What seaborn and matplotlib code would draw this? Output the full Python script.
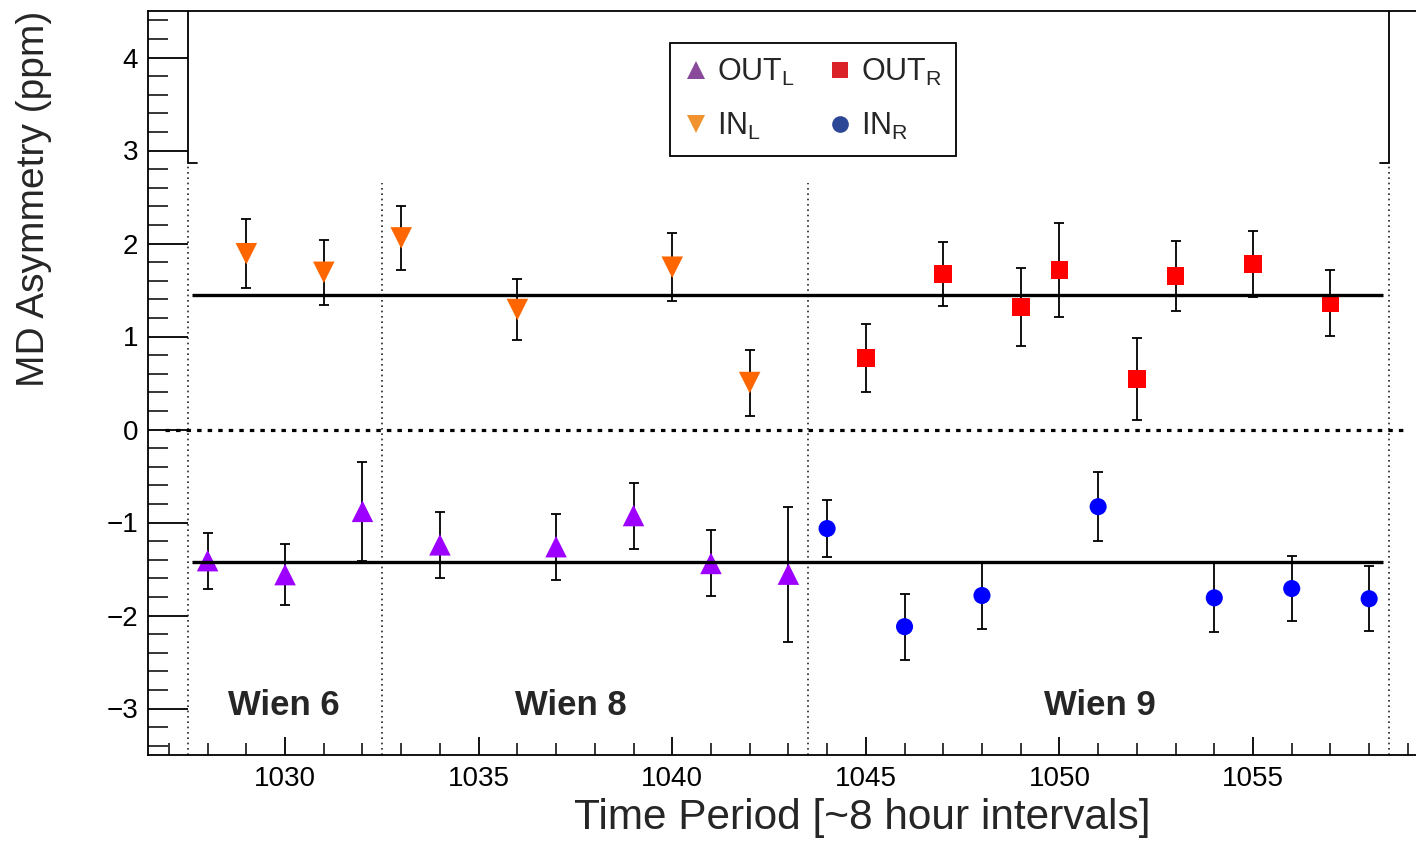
import numpy as np
import pandas as pd
import matplotlib
matplotlib.use("Agg")
import matplotlib.pyplot as plt
from matplotlib.lines import Line2D
from matplotlib.ticker import MultipleLocator
import seaborn as sns

# ---------------- data ----------------
out_l_run = [1028, 1030, 1032, 1034, 1037, 1039, 1041, 1043]
out_l_val = [-1.41, -1.56, -0.88, -1.24, -1.26, -0.925, -1.44, -1.555]
out_l_err = [0.30, 0.33, 0.53, 0.355, 0.355, 0.355, 0.355, 0.725]

in_l_run = [1029, 1031, 1033, 1036, 1040, 1042]
in_l_val = [1.89, 1.69, 2.06, 1.29, 1.745, 0.505]
in_l_err = [0.37, 0.35, 0.34, 0.33, 0.365, 0.355]

out_r_run = [1045, 1047, 1049, 1050, 1052, 1053, 1055, 1057]
out_r_val = [0.77, 1.67, 1.32, 1.715, 0.54, 1.65, 1.78, 1.36]
out_r_err = [0.365, 0.345, 0.42, 0.51, 0.44, 0.38, 0.35, 0.355]

in_r_run = [1044, 1046, 1048, 1051, 1054, 1056, 1058]
in_r_val = [-1.065, -2.12, -1.785, -0.83, -1.81, -1.71, -1.82]
in_r_err = [0.31, 0.355, 0.36, 0.37, 0.37, 0.345, 0.35]

series_names = ["OUT_L", "IN_L", "OUT_R", "IN_R"]
legend_labels = [r"OUT$_{L}$", r"IN$_{L}$", r"OUT$_{R}$", r"IN$_{R}$"]

fit_upper = 1.45     # average of IN_L / OUT_R
fit_lower = -1.43    # average of OUT_L / IN_R

wien_labels = ["Wien 6", "Wien 8", "Wien 9"]
wien_label_x = [1029.97, 1037.38, 1051.05]
wien_bounds = [1027.5, 1032.5, 1043.5, 1058.5]

# ---------------- styling ----------------
sns.set_theme(style="white")
plt.rcParams["font.family"] = ["Liberation Sans", "DejaVu Sans"]
plt.rcParams["mathtext.fontset"] = "custom"
plt.rcParams["mathtext.rm"] = "Liberation Sans"
plt.rcParams["mathtext.default"] = "regular"

marker_colors = {"OUT_L": "#9d00ff", "IN_L": "#ff6600", "OUT_R": "#ff0000", "IN_R": "#0000ff"}
legend_colors = {"OUT_L": "#8a4a9b", "IN_L": "#f0922e", "OUT_R": "#dc2229", "IN_R": "#2c4795"}
markers = {"OUT_L": "^", "IN_L": "v", "OUT_R": "s", "IN_R": "o"}
sizes = {"OUT_L": 15.5 ** 2, "IN_L": 15.5 ** 2, "OUT_R": 12.8 ** 2, "IN_R": 12.3 ** 2}

df = pd.concat([
    pd.DataFrame({"run": out_l_run, "asym": out_l_val, "err": out_l_err, "series": "OUT_L"}),
    pd.DataFrame({"run": in_l_run, "asym": in_l_val, "err": in_l_err, "series": "IN_L"}),
    pd.DataFrame({"run": out_r_run, "asym": out_r_val, "err": out_r_err, "series": "OUT_R"}),
    pd.DataFrame({"run": in_r_run, "asym": in_r_val, "err": in_r_err, "series": "IN_R"}),
], ignore_index=True)

fig = plt.figure(figsize=(14.16, 8.41), dpi=100)
ax = fig.add_axes([148 / 1416, (841 - 755) / 841, (1416 - 148) / 1416, 744 / 841])

ax.set_xlim(1026.46, 1059.21)
ax.set_ylim(-3.5, 4.5)

# error bars
ax.errorbar(df["run"], df["asym"], yerr=df["err"], fmt="none", ecolor="black",
            elinewidth=1.3, capsize=3.3, capthick=1.3, zorder=2)

# markers
sns.scatterplot(data=df, x="run", y="asym", hue="series", style="series", size="series",
                palette=marker_colors, markers=markers, sizes=sizes,
                linewidth=0, legend=False, ax=ax, zorder=3)

# fit lines and zero line
ax.hlines([fit_upper, fit_lower], 1027.6, 1058.35, colors="black", linewidth=2.4, zorder=4)
ax.hlines(0, 1026.9, 1058.98, colors="black", linewidth=2.3, linestyles=(0, (1.4, 1.9)), zorder=4)

# Wien boundaries (dotted)
tops = [2.87, 2.65, 2.65, 2.87]
for xb, tp in zip(wien_bounds, tops):
    ax.vlines(xb, -3.5, tp, colors="#222222", linewidth=1.2, linestyles=(0, (1, 2.2)), zorder=1)

# inner frame pieces at top
ax.plot([1027.5, 1027.5, 1027.73], [4.5, 2.87, 2.87], color="black", lw=1.3, zorder=1,
        solid_joinstyle="miter")
ax.plot([1058.5, 1058.5, 1058.27], [4.5, 2.87, 2.87], color="black", lw=1.3, zorder=1,
        solid_joinstyle="miter")

for lab, xl in zip(wien_labels, wien_label_x):
    ax.text(xl, -3.07, lab, ha="center", va="baseline", fontsize=25, fontweight="bold")

# axes / ticks
for s in ["left", "bottom", "top"]:
    ax.spines[s].set_linewidth(1.3)
    ax.spines[s].set_color("black")
ax.spines["right"].set_visible(False)

ax.xaxis.set_major_locator(MultipleLocator(5))
ax.xaxis.set_minor_locator(MultipleLocator(1))
ax.yaxis.set_major_locator(MultipleLocator(1))
ax.yaxis.set_minor_locator(MultipleLocator(0.2))
ax.tick_params(axis="y", which="major", direction="in", length=28.8, width=1.3,
               labelsize=20, pad=7, left=True, right=False, colors="black")
ax.tick_params(axis="y", which="minor", direction="in", length=14.4, width=1.3, left=True, right=False)
ax.tick_params(axis="x", which="major", direction="in", length=13, width=1.3,
               labelsize=20, pad=8, bottom=True, top=False, colors="black")
ax.tick_params(axis="x", which="minor", direction="in", length=8.3, width=1.3, bottom=True, top=False)

ax.set_xlabel("Time Period [~8 hour intervals]", fontsize=30.5, ha="right")
ax.xaxis.set_label_coords((1150 - 148) / 1268, -0.058)
ax.set_ylabel("MD Asymmetry (ppm)", fontsize=28, loc="top")
ax.yaxis.set_label_coords(-0.076, 1.0)

# legend
handles = [Line2D([], [], linestyle="none", marker=markers[n], color=legend_colors[n],
                  markersize=(12.5 if n in ("OUT_L", "IN_L") else 12), markeredgewidth=0)
           for n in ["OUT_L", "IN_L", "OUT_R", "IN_R"]]
leg = ax.legend(handles, [legend_labels[0], legend_labels[1], legend_labels[2], legend_labels[3]],
                ncol=2, loc="upper left", bbox_to_anchor=(0.4117, 0.957),
                fontsize=22, frameon=True, fancybox=False, framealpha=1,
                edgecolor="black", borderpad=0.45, handlelength=0.8, handletextpad=0.3,
                columnspacing=1.05, labelspacing=0.75, borderaxespad=0)
leg.get_frame().set_linewidth(1.3)

fig.savefig("out.png", dpi=100)
